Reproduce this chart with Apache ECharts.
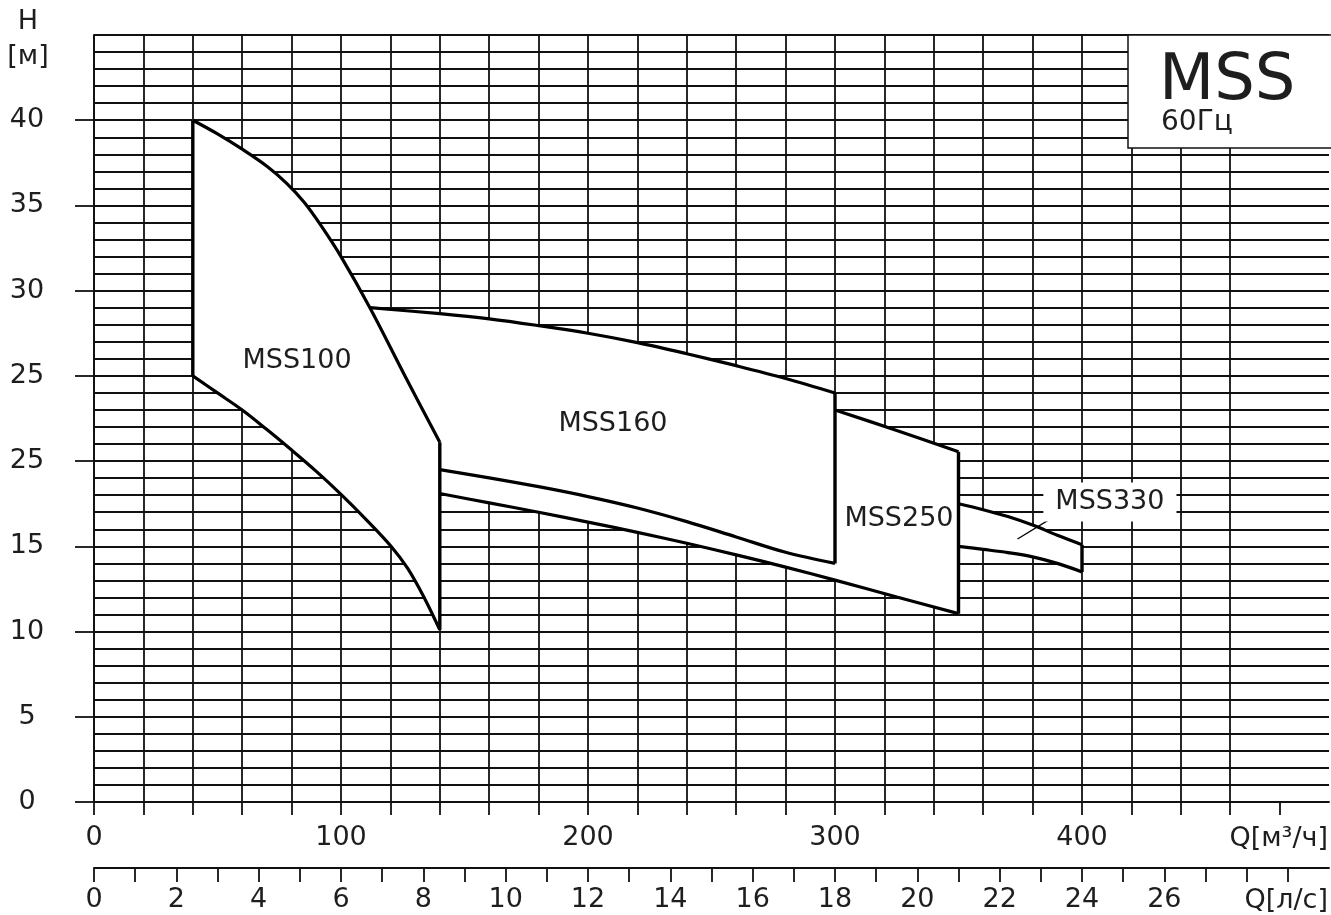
<!DOCTYPE html>
<html><head><meta charset="utf-8">
<script src="https://cdn.jsdelivr.net/npm/echarts@6/dist/echarts.min.js"></script>
<style>html,body{margin:0;padding:0;background:#fff}#c{width:1331px;height:915px}</style>
</head><body><div id="c"></div>
<script>
// ---- axis ticks / labels ----
const yTickValues = [0, 5, 10, 15, 20, 25, 30, 35, 40];
const yTickLabels = ['0', '5', '10', '15', '25', '25', '30', '35', '40'];
const qLabelValues = [0, 100, 200, 300, 400];
const lpsLabelValues = [0, 2, 4, 6, 8, 10, 12, 14, 16, 18, 20, 22, 24, 26];

// ---- pump field boundaries [Q m3/h, H m] ----
const mss100Top = [[40,40],[50,39.2],[60,38.3],[70,37.3],[78,36.3],[85,35.2],[92,33.8],[100,32.0],[111.7,29.0],[125.9,25.0],[140,21.1]];
const mss100Bottom = [[40,25],[50,24.0],[60,23.0],[70,21.85],[80,20.65],[90,19.4],[100,18.05],[110,16.6],[120,15.05],[127,13.7],[134,11.9],[140,10.1]];
const mss160Top = [[111.7,29.0],[140,28.65],[160,28.35],[180,27.95],[200,27.5],[220,26.95],[240,26.3],[260,25.6],[280,24.85],[300,24.0]];
const mss160Bottom = [[140,19.5],[160,19.02],[180,18.5],[200,17.92],[220,17.25],[240,16.45],[260,15.55],[280,14.65],[300,14.0]];
const mss250Top = [[300,23.0],[325,21.8],[350,20.55]];
const mss250Bottom = [[140,18.1],[160,17.55],[180,17.0],[200,16.42],[220,15.82],[240,15.18],[260,14.5],[280,13.78],[300,13.02],[325,12.03],[350,11.05]];
const mss330Top = [[350,17.5],[360,17.15],[370,16.75],[380,16.25],[390,15.65],[400,15.1]];
const mss330Bottom = [[350,15.0],[360,14.82],[370,14.63],[380,14.38],[390,14.0],[400,13.5]];

// ---- annotations ----
const fieldNames = ['MSS100', 'MSS160', 'MSS250', 'MSS330'];
const fieldLabelAt = [[82.2, 25.9], [210.1, 22.2], [325.9, 16.6], [411.3, 17.6]];
const leader330 = [[373.9, 15.43], [387.9, 16.67]];

const FONT = 'DejaVu Sans';
const INK = '#111';
const TXT = '#1e1e1e';
const FS = 27;

const rev = a => a.slice().reverse();
const polys = [
  [...mss100Top, ...rev(mss100Bottom)],
  [...mss160Top, ...rev(mss160Bottom), mss100Top[mss100Top.length - 1]],
  [...mss250Top, ...rev(mss250Bottom), ...mss160Bottom],
  [...mss330Top, ...rev(mss330Bottom)]
];
const curves = [mss100Top, mss100Bottom, mss160Top, mss160Bottom, mss250Top, mss250Bottom, mss330Top, mss330Bottom];
const verticals = [
  [mss100Bottom[0], mss100Top[0]],
  [mss100Bottom[mss100Bottom.length - 1], mss100Top[mss100Top.length - 1]],
  [mss160Bottom[mss160Bottom.length - 1], mss160Top[mss160Top.length - 1]],
  [mss250Bottom[mss250Bottom.length - 1], mss250Top[mss250Top.length - 1]],
  [mss330Bottom[mss330Bottom.length - 1], mss330Top[mss330Top.length - 1]]
];

const series = [];
polys.forEach(p => {
  series.push({
    type: 'custom', coordinateSystem: 'cartesian2d', xAxisIndex: 0, yAxisIndex: 0,
    silent: true, clip: false, z: 2, data: [p[0]],
    renderItem: (params, api) => ({
      type: 'polygon',
      shape: { points: p.map(pt => api.coord(pt)) },
      style: { fill: '#fff', stroke: '#fff', lineWidth: 1 }
    })
  });
});
curves.forEach(c => {
  series.push({ type: 'line', xAxisIndex: 0, yAxisIndex: 0, data: c, smooth: 0.35, symbol: 'none', silent: true, z: 4,
    lineStyle: { color: '#000', width: 3.2 } });
});
verticals.forEach(v => {
  series.push({ type: 'line', xAxisIndex: 0, yAxisIndex: 0, data: v, symbol: 'none', silent: true, z: 4,
    lineStyle: { color: '#000', width: 3.4 } });
});
series.push({ type: 'line', xAxisIndex: 0, yAxisIndex: 0, data: leader330, symbol: 'none', silent: true, z: 5,
  lineStyle: { color: '#000', width: 1.3 } });
series.push({
  type: 'custom', coordinateSystem: 'cartesian2d', xAxisIndex: 0, yAxisIndex: 0, silent: true, z: 6, clip: false,
  data: fieldLabelAt,
  renderItem: (params, api) => {
    const i = params.dataIndex;
    const pt = api.coord([api.value(0), api.value(1)]);
    const st = { text: fieldNames[i], font: FS + 'px "' + FONT + '"', fill: TXT, align: 'center', verticalAlign: 'middle' };
    if (i === 3) { st.backgroundColor = '#fff'; st.padding = [7, 12, 5, 12]; }
    return { type: 'text', x: pt[0], y: pt[1], style: st };
  }
});

const gridColor = INK;
const lab = { color: TXT, fontFamily: FONT, fontSize: FS };
const option = {
  animation: false,
  backgroundColor: '#fff',
  grid: { left: 94, top: 35, right: 2, bottom: 113, containLabel: false },
  xAxis: [
    {
      type: 'value', min: 0, max: 500, interval: 20, position: 'bottom',
      axisLine: { show: true, onZero: false, lineStyle: { color: gridColor, width: 1.8 } },
      axisTick: { show: true, length: 13, inside: false, lineStyle: { color: gridColor, width: 1.8 },
        customValues: Array.from({ length: 25 }, (_, i) => i * 20) },
      axisLabel: Object.assign({ customValues: qLabelValues, margin: 22 }, lab),
      splitLine: { show: true, showMaxLine: false, lineStyle: { color: gridColor, width: 1.8 } }
    },
    {
      type: 'value', min: 0, max: 30, interval: 1, position: 'bottom', offset: 66,
      axisLine: { show: true, onZero: false, lineStyle: { color: gridColor, width: 1.8 } },
      axisTick: { show: true, length: 14, inside: false, lineStyle: { color: gridColor, width: 1.8 },
        customValues: Array.from({ length: 30 }, (_, i) => i) },
      axisLabel: Object.assign({ customValues: lpsLabelValues, margin: 18 }, lab),
      splitLine: { show: false }
    }
  ],
  yAxis: [
    {
      type: 'value', min: 0, max: 45, interval: 5, position: 'left',
      axisLine: { show: true, onZero: false, lineStyle: { color: gridColor, width: 1.8 } },
      axisTick: { show: true, length: 19, inside: false, lineStyle: { color: gridColor, width: 1.8 }, customValues: yTickValues },
      axisLabel: Object.assign({ customValues: yTickValues, margin: 67, align: 'center',
        formatter: v => yTickLabels[yTickValues.indexOf(v)] }, lab),
      splitLine: { show: false }
    },
    {
      type: 'value', min: 0, max: 45, interval: 1, position: 'left',
      axisLine: { show: false }, axisTick: { show: false }, axisLabel: { show: false },
      splitLine: { show: true, lineStyle: { color: gridColor, width: 1.8 } }
    }
  ],
  graphic: [
    { type: 'rect', z: 100, shape: { x: 1128, y: 35, width: 220, height: 113 },
      style: { fill: '#fff', stroke: INK, lineWidth: 1.5 } },
    { type: 'text', z: 101, x: 1159, y: 82, style: { text: 'MSS', font: '64px "DejaVu Sans"', fill: TXT, align: 'left', verticalAlign: 'middle' } },
    { type: 'text', z: 101, x: 1161, y: 123, style: { text: '60Гц', font: '28px "DejaVu Sans"', fill: TXT, align: 'left', verticalAlign: 'middle' } },
    { type: 'text', z: 101, x: 28, y: 22, style: { text: 'Н', font: FS + 'px "DejaVu Sans"', fill: TXT, align: 'center', verticalAlign: 'middle' } },
    { type: 'text', z: 101, x: 28, y: 57, style: { text: '[м]', font: FS + 'px "DejaVu Sans"', fill: TXT, align: 'center', verticalAlign: 'middle' } },
    { type: 'text', z: 101, x: 1328, y: 839, style: { text: 'Q[м³/ч]', font: FS + 'px "DejaVu Sans"', fill: TXT, align: 'right', verticalAlign: 'middle' } },
    { type: 'text', z: 101, x: 1328, y: 901, style: { text: 'Q[л/с]', font: FS + 'px "DejaVu Sans"', fill: TXT, align: 'right', verticalAlign: 'middle' } }
  ],
  series
};
const chart = echarts.init(document.getElementById('c'), null, { renderer: 'canvas' });
chart.setOption(option);
</script>
</body></html>
